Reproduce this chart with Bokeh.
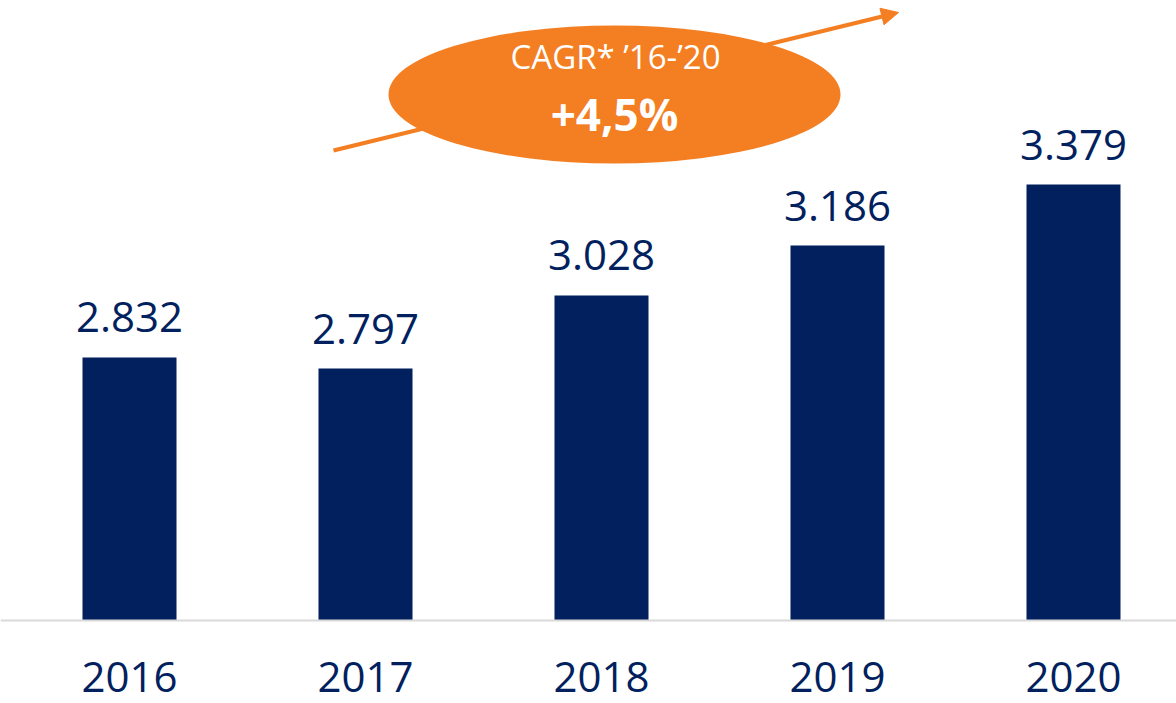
from bokeh.plotting import figure
from bokeh.models import Range1d, Span, Arrow, NormalHead, Label, ColumnDataSource
from bokeh.core.properties import value
from bokeh.embed import file_html
from bokeh.resources import INLINE

years = ["2016", "2017", "2018", "2019", "2020"]
values = [2832, 2797, 3028, 3186, 3379]
value_labels = ["2.832", "2.797", "3.028", "3.186", "3.379"]
cagr_title = "CAGR* \u201916-\u201920"
cagr_value = "+4,5%"

NAVY = "#021F5E"
ORANGE = "#F47E22"
FONT = "Open Sans"

W, H = 1176, 703
BASE = 2000
# layout: pixel scale of the value axis
units_per_px = (3379 - BASE) / 436.0
base_px = 620  # px of baseline from top
y_end = BASE + base_px * units_per_px
y_start = BASE - (H - base_px) * units_per_px
x_start = -129 / 236.0
x_end = x_start + W / 236.0
FIX = 15  # baseline compensation (px)


def px_to_x(px):
    return x_start + px / 236.0


def px_to_y(py):
    return BASE + (base_px - py) * units_per_px


p = figure(width=W, height=H, output_backend="svg", toolbar_location=None,
           x_range=Range1d(x_start, x_end), y_range=Range1d(y_start, y_end),
           min_border=0)
p.axis.visible = False
p.grid.visible = False
p.outline_line_color = None
p.background_fill_color = "white"
p.border_fill_color = "white"

src = ColumnDataSource(dict(x=list(range(len(years))), top=values,
                            lab=value_labels, yr=years,
                            base=[BASE] * len(years)))

p.vbar(x="x", top="top", bottom=BASE, width=94 / 236.0, source=src,
       fill_color=NAVY, line_color=None)

p.add_layout(Span(location=BASE, dimension="width", line_color="#D9D9D9",
                  line_width=2))

p.text(x="x", y="top", text="lab", source=src, text_align="center",
       text_baseline="alphabetic", y_offset=-25 - FIX, text_color=NAVY,
       text_font=value(FONT), text_font_size="42px")
p.text(x="x", y="base", text="yr", source=src, text_align="center",
       text_baseline="alphabetic", y_offset=71 - FIX, text_color=NAVY,
       text_font=value(FONT), text_font_size="42px")

arrow = Arrow(end=NormalHead(size=17, fill_color=ORANGE, line_color=ORANGE),
              x_start=px_to_x(333), y_start=px_to_y(150),
              x_end=px_to_x(898), y_end=px_to_y(12),
              line_color=ORANGE, line_width=4, level="underlay")
p.add_layout(arrow)

p.ellipse(x=[px_to_x(614)], y=[px_to_y(94)], width=452, height=138,
          width_units="screen", height_units="screen",
          fill_color=ORANGE, line_color=None)

p.add_layout(Label(x=px_to_x(615), y=px_to_y(71 - FIX), text=cagr_title,
                   text_align="center", text_baseline="alphabetic",
                   text_color="white", text_font=FONT, text_font_size="33px"))
p.add_layout(Label(x=px_to_x(614), y=px_to_y(128 - FIX), text=cagr_value,
                   text_align="center", text_baseline="alphabetic",
                   text_color="white", text_font=FONT, text_font_size="44px",
                   text_font_style="bold"))

open("out.html", "w").write(file_html(p, INLINE))
